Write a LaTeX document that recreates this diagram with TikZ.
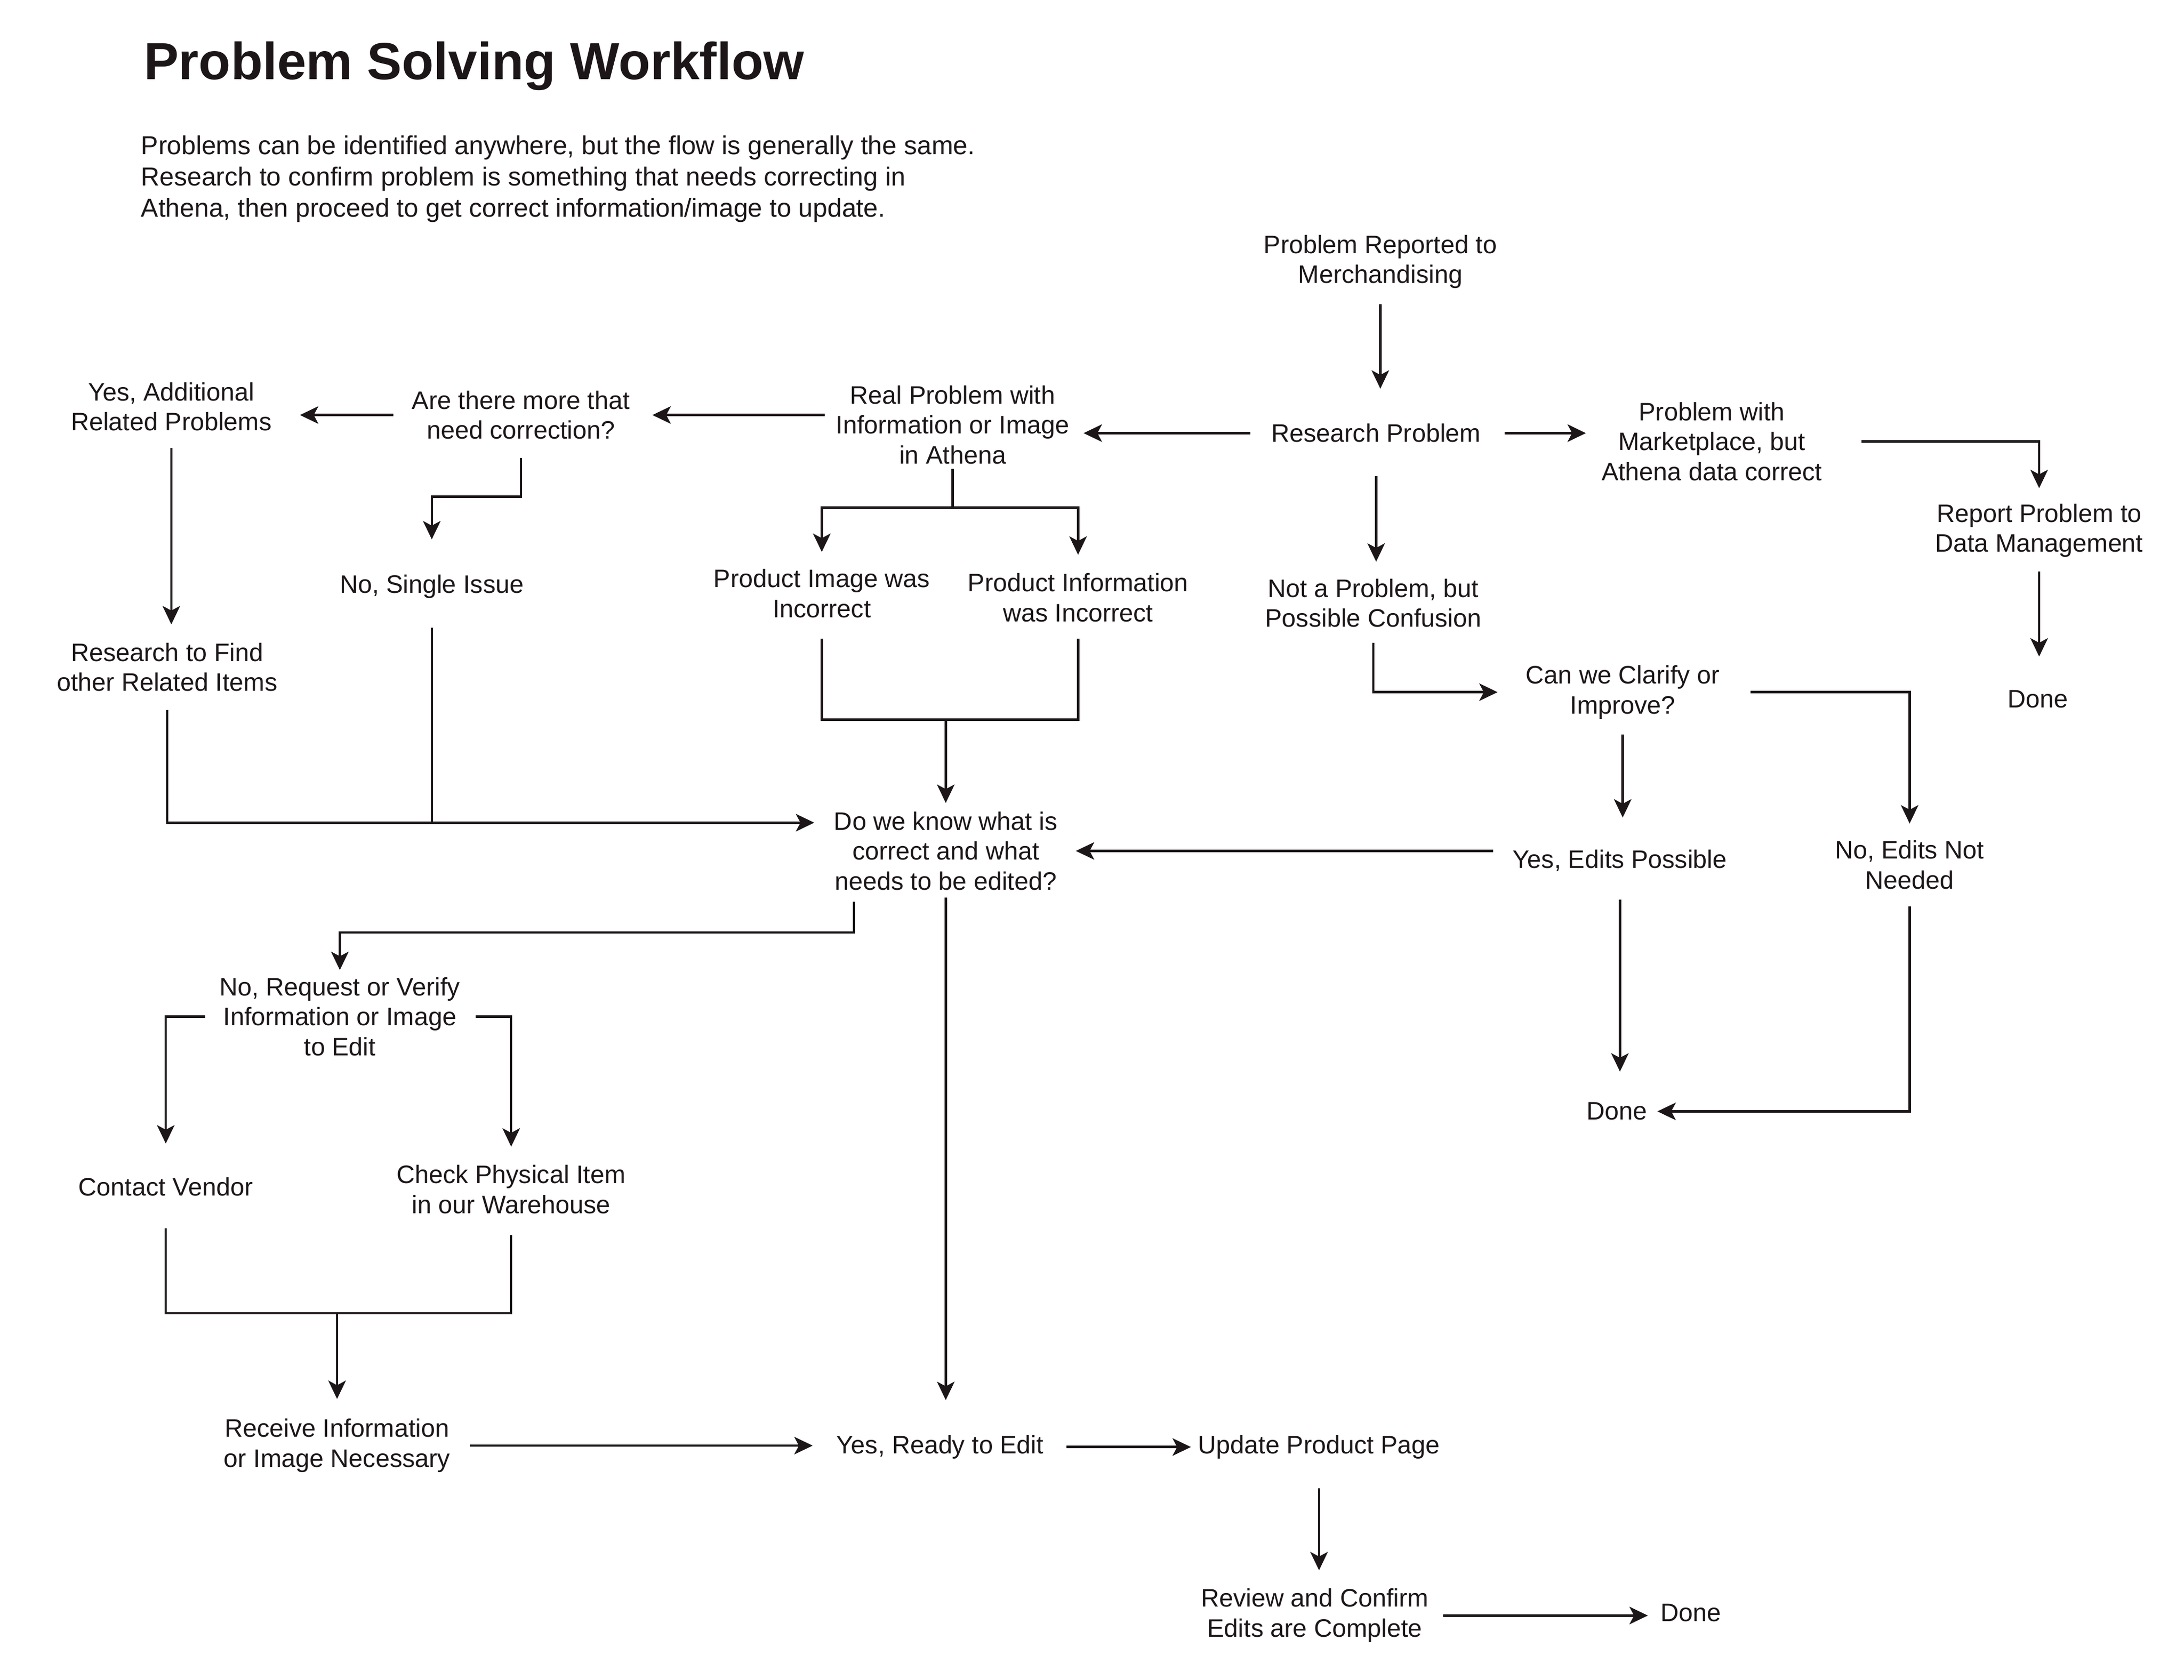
\documentclass[tikz,border=0pt]{standalone}
\usepackage{fontspec}
\setmainfont{Liberation Sans}
\usetikzlibrary{arrows.meta,calc}
\definecolor{ink}{HTML}{1C1618}
\begin{document}
\begin{tikzpicture}[x=0.02673cm, y=-0.02673cm,
  lbl/.style={align=center, inner sep=0pt, text=ink, font=\fontsize{13.8}{16.4}\selectfont},
  con/.style={draw=ink, line width=1.3pt},
  arr/.style={con, -{Stealth[length=10pt, width=9.5pt, inset=2.5pt]}},
  gp/.style 2 args={shorten <=#1*0.02673cm, shorten >=#2*0.02673cm}]
\fill[white] (0,0) rectangle (1568,1206);
\useasboundingbox (0,0) rectangle (1568,1206);

% title and introduction
\node[font=\fontsize{28.5}{34}\selectfont\bfseries, text=ink, anchor=base west, inner sep=0pt] (title) at (103,57) {Problem Solving Workflow};
\node[text=ink, anchor=north west, inner sep=0pt, align=left, font=\fontsize{14.2}{17.1}\selectfont] (intro) at (101,97)
  {Problems can be identified anywhere, but the flow is generally the same.\\Research to confirm problem is something that needs correcting in\\Athena, then proceed to get correct information/image to update.};

% nodes
\node[lbl] (A) at (991,188) {Problem Reported to\\Merchandising};
\node[lbl] (B) at (988,311) {Research Problem};
\node[lbl] (C) at (684,305) {Real Problem with\\Information or Image\\in Athena};
\node[lbl] (D) at (374,298) {Are there more that\\need correction?};
\node[lbl] (E) at (123,292) {Yes, Additional\\Related Problems};
\node[lbl] (F) at (120,479) {Research to Find\\other Related Items};
\node[lbl] (G) at (310,421) {No, Single Issue};
\node[lbl] (H) at (590,426) {Product Image was\\Incorrect};
\node[lbl] (I) at (774,429) {Product Information\\was Incorrect};
\node[lbl] (J) at (679,611) {Do we know what is\\correct and what\\needs to be edited?};
\node[lbl] (K) at (1229,317) {Problem with\\Marketplace, but\\Athena data correct};
\node[lbl] (L) at (1464,381) {Report Problem to\\Data Management};
\node[lbl] (M) at (1463,502) {Done};
\node[lbl] (N) at (986,433) {Not a Problem, but\\Possible Confusion};
\node[lbl] (O) at (1165,497) {Can we Clarify or\\Improve?};
\node[lbl] (P) at (1163,618) {Yes, Edits Possible};
\node[lbl] (Q) at (1371,621) {No, Edits Not\\Needed};
\node[lbl] (R) at (1161,798) {Done};
\node[lbl] (S) at (244,730) {No, Request or Verify\\Information or Image\\to Edit};
\node[lbl] (T) at (119,852) {Contact Vendor};
\node[lbl] (U) at (367,854) {Check Physical Item\\in our Warehouse};
\node[lbl] (V) at (242,1038) {Receive Information\\or Image Necessary};
\node[lbl] (W) at (675,1039) {Yes, Ready to Edit};
\node[lbl] (X) at (947,1039) {Update Product Page};
\node[lbl] (Y) at (944,1160) {Review and Confirm\\Edits are Complete};
\node[lbl] (Z) at (1214,1158) {Done};

% connectors
\draw[arr, gp={11}{25}] (A.south) -- (A.south |- B.north);
\draw[arr, gp={15}{10}] (B.west) -- (B.west -| C.east);
\draw[arr, gp={8}{16}] (D.east -| C.west) -- (D.east);
\draw[arr, gp={13}{20}] (D.west) -- (D.west -| E.east);
\draw[arr, gp={12}{13}] (E.south) -- (E.south |- F.north);
\draw[arr, gp={13}{25}] (D.south) -- ++(0,41) -| (G.north);
\draw[arr, gp={3}{12}] (C.south) -- ++(0,31) coordinate (ci) -| (H.north);
\draw[arr, gp={0}{13}] (ci) -| (I.north);
\draw[con, gp={15}{12}] (H.south) -- ++(0,73) coordinate (hi) -| (I.south);
\draw[arr, gp={0}{6}] (hi -| J.north) -- (J.north);
\draw[arr, gp={13}{14}] (F.south) -- ++(0,94) coordinate (fj) -- (fj -| J.west);
\draw[con, gp={21}{0}] (G.south) -- (G.south |- fj);
\draw[arr, gp={17}{11}] (B.east) -- (B.east -| K.west);
\draw[arr, gp={28}{11}] (K.east) -| (L.north);
\draw[arr, gp={10}{24}] (L.south) -- (L.south |- M.north);
\draw[arr, gp={24}{12}] (B.south) -- (B.south |- N.north);
\draw[arr, gp={11}{20}] (N.south) |- (O.west);
\draw[arr, gp={11}{23}] (O.south) -- (O.south |- P.north);
\draw[arr, gp={22}{12}] (O.east) -| (Q.north);
\draw[arr, gp={14}{13}] (J.east -| P.west) -- (J.east);
\draw[arr, gp={20}{22}] (P.south) -- (P.south |- R.north);
\draw[arr, gp={12}{7}] (Q.south) |- (R.east);
\draw[arr, gp={8}{5}] ($(J.south)+(-66,0)$) -- ++(0,30) -| (S.north);
\draw[arr, gp={10}{24}] (S.west) -| (T.north);
\draw[arr, gp={11}{13}] (S.east) -| (U.north);
\draw[con, gp={23}{15}] (T.south) -- ++(0,84) coordinate (tu) -| (U.south);
\draw[arr, gp={0}{14}] (tu -| V.north) -- (V.north);
\draw[arr, gp={14}{17}] (V.east) -- (V.east -| W.west);
\draw[arr, gp={5}{25}] (J.south) -- (J.south |- W.north);
\draw[arr, gp={16}{5}] (W.east) -- (X.west);
\draw[arr, gp={21}{13}] (X.south) -- (X.south |- Y.north);
\draw[arr, gp={10}{9}] (Y.east) -- (Y.east -| Z.west);
\end{tikzpicture}
\end{document}
